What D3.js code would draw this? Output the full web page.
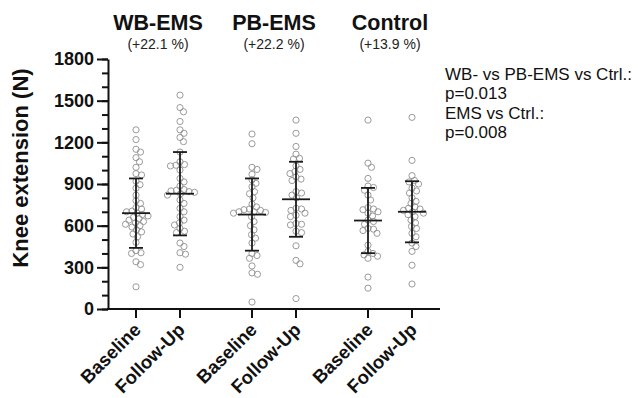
<!DOCTYPE html>
<html>
<head>
<meta charset="utf-8">
<script src="https://cdn.jsdelivr.net/npm/d3@7"></script>
<style>
  body { margin: 0; background: #fff; }
  svg { font-family: "Liberation Sans", Arial, sans-serif; }
</style>
</head>
<body>
<div id="chart"></div>
<script>
const groups = ['WB-EMS', 'PB-EMS', 'Control'];
const changes = ['(+22.1 %)', '(+22.2 %)', '(+13.9 %)'];
const timepoints = ['Baseline', 'Follow-Up'];
const yTicks = [0, 300, 600, 900, 1200, 1500, 1800];
const notes = ['WB- vs PB-EMS vs Ctrl.:', 'p=0.013', 'EMS vs Ctrl.:', 'p=0.008'];

// individual values
const wbBaseline = [1290, 1220, 1150, 1130, 1090, 1060, 1020, 975, 965, 920, 895, 870, 820, 780, 760, 730, 720, 705, 700, 690,
  680, 670, 660, 650, 640, 630, 620, 610, 600, 590, 570, 555, 540, 520, 480, 420, 405, 400, 340, 320, 160];
const wbFollowUp = [1540, 1450, 1420, 1350, 1290, 1265, 1235, 1205, 1130, 1060, 1040, 1035, 1030, 1000, 940, 915, 885, 860, 855, 850,
  845, 840, 830, 820, 785, 760, 725, 700, 665, 640, 620, 605, 580, 560, 550, 475, 450, 405, 395, 300];
const pbBaseline = [1260, 1190, 1020, 1005, 970, 930, 905, 880, 845, 830, 800, 755, 735, 720, 715, 710, 700, 700, 695, 690,
  665, 630, 600, 570, 535, 510, 475, 400, 385, 365, 310, 260, 250, 50];
const pbFollowUp = [1360, 1265, 1170, 1115, 1085, 1080, 1030, 1005, 990, 975, 950, 935, 925, 845, 835, 820, 800, 725, 720, 710,
  690, 675, 665, 615, 610, 605, 560, 550, 455, 350, 325, 75];
const ctrlBaseline = [1360, 1050, 1020, 940, 885, 875, 855, 820, 785, 730, 720, 715, 700, 690, 670, 640, 630, 610, 580, 575,
  565, 545, 460, 415, 400, 390, 380, 365, 230, 150];
const ctrlFollowUp = [1380, 1070, 960, 925, 915, 900, 870, 850, 835, 800, 775, 760, 735, 725, 720, 710, 700, 690, 680, 665,
  640, 620, 595, 580, 545, 520, 475, 450, 415, 315, 180];

// mean and SD drawn as bars
const means = [690, 830, 680, 790, 637, 700];
const sds = [250, 300, 260, 270, 235, 220];

const series = [
  { group: 'WB-EMS', time: 'Baseline', values: wbBaseline },
  { group: 'WB-EMS', time: 'Follow-Up', values: wbFollowUp },
  { group: 'PB-EMS', time: 'Baseline', values: pbBaseline },
  { group: 'PB-EMS', time: 'Follow-Up', values: pbFollowUp },
  { group: 'Control', time: 'Baseline', values: ctrlBaseline },
  { group: 'Control', time: 'Follow-Up', values: ctrlFollowUp },
].map((s, i) => ({ ...s, mean: means[i], sd: sds[i] }));

const width = 638, height = 398;
const svg = d3.select('#chart').append('svg')
  .attr('width', width)
  .attr('height', height);

const xGroup = d3.scaleBand().domain(groups).range([100, 448]);
const xInner = d3.scalePoint().domain(timepoints).range([-22, 22]);
const xPos = d => xGroup(d.group) + xGroup.bandwidth() / 2 + xInner(d.time);

const y = d3.scaleLinear().domain([0, 1800]).range([309, 59]);
const axisX = 108;
const axisEnd = 440;
const ink = '#111';

// Y axis: minor ticks then major ticks with labels
svg.append('g')
  .attr('transform', `translate(${axisX},0)`)
  .call(d3.axisLeft(y).tickValues(d3.range(0, 1801, 100)).tickSize(6).tickFormat(''))
  .call(g => g.select('.domain').remove());

const yAxis = svg.append('g')
  .attr('transform', `translate(${axisX},0)`)
  .call(d3.axisLeft(y).tickValues(yTicks).tickSize(11).tickPadding(3).tickSizeOuter(0).tickFormat(d3.format('d')));
yAxis.selectAll('text')
  .style('font-size', '18px')
  .style('font-weight', 'bold')
  .attr('fill', ink);

svg.selectAll('.tick line, .domain')
  .attr('stroke', ink)
  .attr('stroke-width', 2);

svg.append('text')
  .attr('transform', 'translate(28,168) rotate(-90)')
  .attr('text-anchor', 'middle')
  .style('font-size', '22px')
  .style('font-weight', 'bold')
  .attr('fill', ink)
  .text('Knee extension (N)');

// X axis
svg.append('line')
  .attr('x1', axisX - 1).attr('x2', axisEnd)
  .attr('y1', y(0)).attr('y2', y(0))
  .attr('stroke', ink).attr('stroke-width', 2);

const xTicks = svg.append('g').selectAll('g')
  .data(series)
  .join('g')
  .attr('transform', d => `translate(${xPos(d)},${y(0)})`);
xTicks.append('line')
  .attr('y2', 9)
  .attr('stroke', ink).attr('stroke-width', 2);
xTicks.append('text')
  .attr('transform', 'translate(6,22) rotate(-45)')
  .attr('text-anchor', 'end')
  .style('font-size', '18.5px')
  .style('font-weight', 'bold')
  .attr('fill', ink)
  .text(d => d.time);

// group titles
const titles = svg.append('g').selectAll('g')
  .data(groups)
  .join('g')
  .attr('transform', d => `translate(${xGroup(d) + xGroup.bandwidth() / 2},0)`);
titles.append('text')
  .attr('y', 30)
  .attr('text-anchor', 'middle')
  .style('font-size', '21.5px')
  .style('font-weight', 'bold')
  .attr('fill', ink)
  .text(d => d);
titles.append('text')
  .attr('y', 49)
  .attr('text-anchor', 'middle')
  .style('font-size', '14px')
  .attr('fill', '#222')
  .text((d, i) => changes[i]);

// beeswarm layout for the individual points
const r = 3.1;
const minDist = 2 * r * 0.85;
function swarm(values) {
  const placed = [];
  const sorted = values.map(v => ({ v, py: y(v) })).sort((a, b) => a.py - b.py);
  sorted.forEach(p => {
    let best = 0;
    for (let step = 0; step < 200; step++) {
      const cand = (step % 2 ? 1 : -1) * Math.ceil(step / 2) * 0.5;
      const ok = placed.every(q => (q.dx - cand) ** 2 + (q.py - p.py) ** 2 >= minDist ** 2);
      if (ok) { best = cand; break; }
    }
    p.dx = best;
    placed.push(p);
  });
  return placed;
}

const cols = svg.append('g').selectAll('g')
  .data(series)
  .join('g')
  .attr('transform', d => `translate(${xPos(d)},0)`);

cols.selectAll('circle')
  .data(d => swarm(d.values))
  .join('circle')
  .attr('cx', d => d.dx)
  .attr('cy', d => d.py)
  .attr('r', r)
  .attr('fill', 'none')
  .attr('stroke', '#909090')
  .attr('stroke-width', 0.9);

// mean +/- SD
cols.append('line')
  .attr('y1', d => y(d.mean + d.sd)).attr('y2', d => y(d.mean - d.sd))
  .attr('stroke', '#1a1a1a').attr('stroke-width', 1.8);
cols.append('line')
  .attr('x1', -14).attr('x2', 14)
  .attr('y1', d => y(d.mean)).attr('y2', d => y(d.mean))
  .attr('stroke', '#1a1a1a').attr('stroke-width', 1.8);
[1, -1].forEach(k => {
  cols.append('line')
    .attr('x1', -7).attr('x2', 7)
    .attr('y1', d => y(d.mean + k * d.sd)).attr('y2', d => y(d.mean + k * d.sd))
    .attr('stroke', '#1a1a1a').attr('stroke-width', 1.8);
});

// statistics note
svg.append('g').selectAll('text')
  .data(notes)
  .join('text')
  .attr('x', 445)
  .attr('y', (d, i) => 80 + i * 19.3)
  .style('font-size', '17px')
  .attr('fill', ink)
  .text(d => d);
</script>
</body>
</html>
